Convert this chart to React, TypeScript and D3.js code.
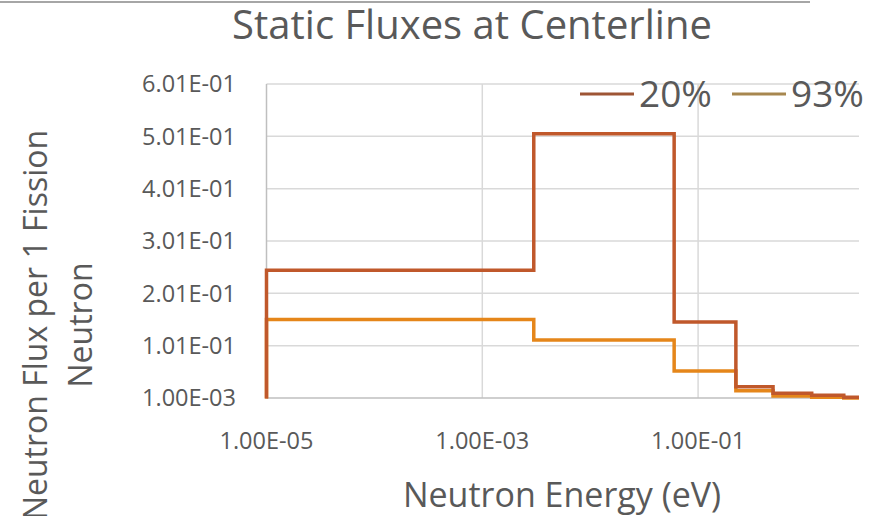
import React from "react";
import * as d3 from "d3";

const energyEdges = [1e-5, 3.0e-3, 0.06, 0.224, 0.495, 1.13, 2.24, 3.1];
const flux20 = [0.245, 0.506, 0.146, 0.0226, 0.01, 0.0062, 0.0023];
const flux93 = [0.151, 0.112, 0.0525, 0.015, 0.0048, 0.0025, 0.0012];
const yTicks = [0.001, 0.101, 0.201, 0.301, 0.401, 0.501, 0.601];
const xTicks = [1e-5, 1e-3, 1e-1];
const seriesNames = ["20%", "93%"];

const W = 880;
const H = 516;
const FONT = "'Open Sans', sans-serif";
const TEXT = "#595959";

function fmtE(v: number): string {
  const s = d3.format(".2e")(v); // e.g. 1.00e-5
  const [m, e] = s.split("e");
  const n = parseInt(e, 10);
  const sign = n < 0 ? "-" : "+";
  const abs = Math.abs(n).toString().padStart(2, "0");
  return `${m}E${sign}${abs}`;
}

export default function App() {
  const x = d3.scaleLog().domain([1e-5, 3.1]).range([266.5, 859]);
  const y = d3.scaleLinear().domain([0.001, 0.601]).range([398, 84]);

  const stepPts = (vals: number[]): [number, number][] => {
    const pts: [number, number][] = [[energyEdges[0], 0]];
    vals.forEach((v, i) => pts.push([energyEdges[i], v]));
    pts.push([energyEdges[energyEdges.length - 1], vals[vals.length - 1]]);
    return pts;
  };
  const line = d3
    .line<[number, number]>()
    .x((d) => x(d[0]))
    .y((d) => y(d[1]))
    .curve(d3.curveStepAfter);

  const colors = ["#C0582B", "#E5861A"];
  const legendColors = ["#9E5535", "#A7874F"];
  const [x0, x1] = x.range();

  return (
    <svg
      width={W}
      height={H}
      style={{ position: "absolute", left: 0, top: 0, background: "#fff" }}
      fontFamily={FONT}
    >
      <rect x={0} y={0} width={W} height={H} fill="#fff" />
      <line x1={0} x2={810} y1={2} y2={2} stroke="#A6A6A6" strokeWidth={2} />
      <text x={472} y={39} textAnchor="middle" fontSize={40} fill={TEXT}>
        Static Fluxes at Centerline
      </text>

      {/* gridlines */}
      {yTicks.slice(1).map((t) => (
        <line key={"gy" + t} x1={x0} x2={x1} y1={y(t)} y2={y(t)} stroke="#D9D9D9" strokeWidth={1.5} />
      ))}
      {xTicks.slice(1).map((t) => (
        <line key={"gx" + t} x1={x(t)} x2={x(t)} y1={y(0.601)} y2={y(0.001)} stroke="#D9D9D9" strokeWidth={1.5} />
      ))}
      {/* axes */}
      <line x1={x0} x2={x0} y1={y(0.601)} y2={y(0.001)} stroke="#BFBFBF" strokeWidth={1.5} />
      <line x1={x0} x2={x1} y1={y(0.001)} y2={y(0.001)} stroke="#BFBFBF" strokeWidth={1.5} />

      {/* tick labels */}
      {yTicks.map((t) => (
        <text key={"ty" + t} x={236} y={y(t)} dy="0.36em" textAnchor="end" fontSize={23.5} fill={TEXT}>
          {fmtE(t)}
        </text>
      ))}
      {xTicks.map((t) => (
        <text key={"tx" + t} x={x(t)} y={449} textAnchor="middle" fontSize={23.5} fill={TEXT}>
          {fmtE(t)}
        </text>
      ))}

      {/* series */}
      <path d={line(stepPts(flux93)) || ""} fill="none" stroke={colors[1]} strokeWidth={3.5} />
      <path d={line(stepPts(flux20)) || ""} fill="none" stroke={colors[0]} strokeWidth={3.5} />

      {/* axis titles */}
      <text x={562} y={507} textAnchor="middle" fontSize={34} fill={TEXT}>
        Neutron Energy (eV)
      </text>
      <text transform="translate(47,325) rotate(-90)" textAnchor="middle" fontSize={32} fill={TEXT}>
        Neutron Flux per 1 Fission
      </text>
      <text transform="translate(92,325) rotate(-90)" textAnchor="middle" fontSize={32} fill={TEXT}>
        Neutron
      </text>

      {/* legend */}
      {seriesNames.map((n, i) => {
        const lx = i === 0 ? 580 : 732;
        return (
          <g key={n}>
            <line x1={lx} x2={lx + 54} y1={94} y2={94} stroke={legendColors[i]} strokeWidth={3} />
            <text x={lx + 59} y={107} fontSize={37} fill={TEXT}>
              {n}
            </text>
          </g>
        );
      })}
    </svg>
  );
}
